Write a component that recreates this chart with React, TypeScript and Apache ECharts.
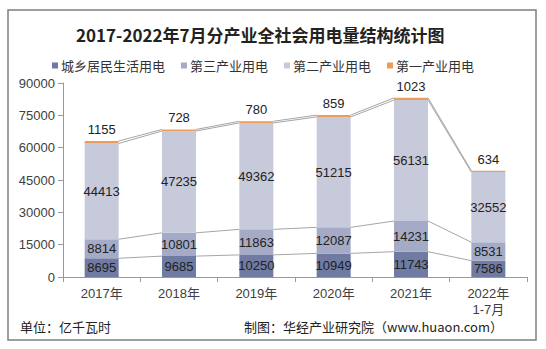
import React, { useEffect, useRef } from "react";
import * as echarts from "echarts";

const categories = ["2017年", "2018年", "2019年", "2020年", "2021年", "2022年\n1-7月"];
const residential = [8695, 9685, 10250, 10949, 11743, 7586];
const tertiary = [8814, 10801, 11863, 12087, 14231, 8531];
const secondary = [44413, 47235, 49362, 51215, 56131, 32552];
const primary = [1155, 728, 780, 859, 1023, 634];
const seriesNames = ["城乡居民生活用电", "第三产业用电", "第二产业用电", "第一产业用电"];
const yTicks = { min: 0, max: 90000, interval: 15000 };

const colors = ["#6f7ba2", "#a5abc6", "#c7cadb", "#ec9d5a"];
const BAR_W = 34;
const FONT = "'Liberation Sans', Arial, 'Noto Sans CJK SC', sans-serif";
const CJK = "'Noto Sans CJK SC', sans-serif";

export default function App() {
  const ref = useRef<HTMLDivElement>(null);
  useEffect(() => {
    if (!ref.current) return;
    const chart = echarts.init(ref.current, undefined, { renderer: "svg" });
    const stacks = [residential, tertiary, secondary, primary];
    const cum: number[][] = [];
    stacks.forEach((arr, k) => {
      cum.push(arr.map((v, i) => v + (k > 0 ? cum[k - 1][i] : 0)));
    });
    const connectorData: number[][] = [];
    cum.forEach((c) => {
      for (let i = 0; i < c.length - 1; i++) connectorData.push([i, c[i], c[i + 1]]);
    });

    const barSeries = stacks.map((arr, k) => ({
      name: seriesNames[k],
      type: "bar",
      stack: "total",
      barWidth: BAR_W,
      data: arr,
      itemStyle: { color: colors[k] },
      label: {
        show: true,
        position: k === 3 ? "top" : "inside",
        distance: 5,
        color: "#222",
        fontSize: 13,
        fontFamily: FONT,
      },
    }));

    chart.setOption({
      animation: false,
      backgroundColor: "#fff",
      title: {
        text: "2017-2022年7月分产业全社会用电量结构统计图",
        left: 71,
        top: 21,
        textStyle: { fontSize: 17, fontWeight: "bold", color: "#222", fontFamily: CJK },
      },
      legend: {
        data: seriesNames,
        top: 54,
        left: 47,
        icon: "rect",
        itemWidth: 6,
        itemHeight: 6,
        itemGap: 16,
        itemStyle: { borderWidth: 0 },
        textStyle: { fontSize: 13, color: "#333", fontFamily: CJK, padding: [0, 0, 0, -2] },
      },
      grid: { left: 63, right: 19, top: 83, bottom: 72 },
      xAxis: {
        type: "category",
        data: categories,
        axisLine: { lineStyle: { color: "#999" } },
        axisTick: { show: true, lineStyle: { color: "#999" } },
        axisLabel: { fontSize: 13, color: "#404040", fontFamily: FONT, lineHeight: 16, margin: 8 },
      },
      yAxis: {
        type: "value",
        min: yTicks.min,
        max: yTicks.max,
        interval: yTicks.interval,
        axisLine: { show: true, lineStyle: { color: "#999" } },
        axisTick: { show: true, lineStyle: { color: "#999" } },
        splitLine: { show: false },
        axisLabel: { fontSize: 13, color: "#404040", fontFamily: FONT, margin: 8, formatter: (v: number) => String(v) },
      },
      series: [
        ...barSeries,
        {
          type: "custom",
          silent: true,
          data: connectorData,
          z: 1,
          renderItem: (params: any, api: any) => {
            const i = api.value(0);
            const p1 = api.coord([i, api.value(1)]);
            const p2 = api.coord([i + 1, api.value(2)]);
            return {
              type: "line",
              shape: { x1: p1[0] + BAR_W / 2, y1: p1[1], x2: p2[0] - BAR_W / 2, y2: p2[1] },
              style: { stroke: "#a6a6a6", lineWidth: 1 },
            };
          },
        },
      ],
      graphic: [
        {
          type: "rect",
          shape: { x: 8, y: 10, width: 528, height: 330 },
          style: { fill: "none", stroke: "#7f7f7f", lineWidth: 1.5 },
          silent: true,
        },
        {
          type: "text",
          left: 20,
          top: 320,
          style: { text: "单位：亿千瓦时", fontSize: 13, fill: "#222", fontFamily: CJK },
        },
        {
          type: "text",
          right: 43,
          top: 320,
          style: { text: "制图：华经产业研究院（www.huaon.com）", fontSize: 13, fill: "#222", fontFamily: CJK },
        },
      ],
    });
    return () => chart.dispose();
  }, []);
  return <div ref={ref} style={{ position: "fixed", left: 0, top: 0, width: 546, height: 349 }} />;
}
